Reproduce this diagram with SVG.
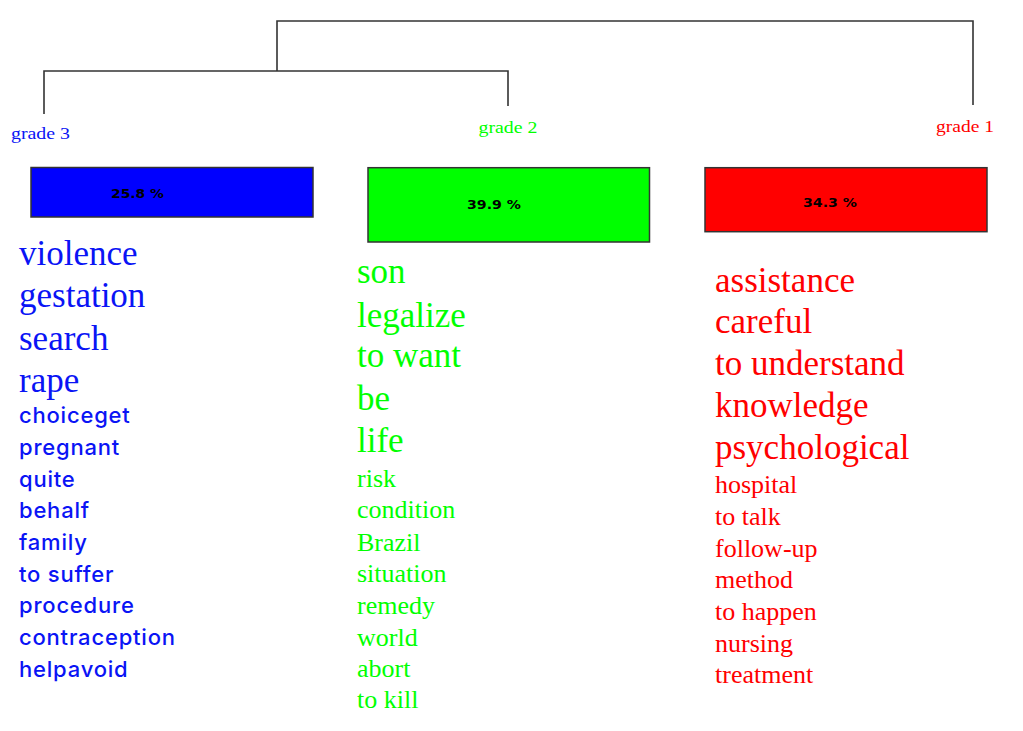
<svg xmlns="http://www.w3.org/2000/svg" width="1023" height="731" viewBox="0 0 1023 731">
<style>
.bg{fill:#ffffff}
.edge{fill:none;stroke:#333333;stroke-width:1.6}
.box{stroke:#333333;stroke-width:1.5}
.pct{font-family:"DejaVu Sans",sans-serif;font-weight:bold;font-size:12.5px;fill:#000000}
.lbl{font-family:"Liberation Serif","Times New Roman",serif;font-size:17.5px}
.big{font-family:"Liberation Serif","Times New Roman",serif;font-size:35px}
.sm{font-family:"Liberation Serif","Times New Roman",serif;font-size:26px}
.sans{font-family:Inter,"Liberation Sans",sans-serif;font-size:22px;font-weight:500;letter-spacing:0.8px}
.b{fill:#0a14f5}
.g{fill:#00ff00}
.r{fill:#ff0000}
</style>
<rect class="bg" x="0" y="0" width="1023" height="731"/>
<g id="connectors">
<path class="edge" d="M277,71 V21 H973 V105"/>
<path class="edge" d="M44,114 V71 H508 V106"/>
</g>
<g id="grade3">
<text class="lbl b" x="11" y="139" textLength="59" lengthAdjust="spacingAndGlyphs">grade 3</text>
<rect class="box" x="31" y="167.5" width="282" height="49.5" fill="#0000ff"/>
<text class="pct" x="111" y="197.5" textLength="53" lengthAdjust="spacingAndGlyphs">25.8 %</text>
<text class="big b" x="19" y="265">violence</text>
<text class="big b" x="19" y="307.3">gestation</text>
<text class="big b" x="19" y="349.5">search</text>
<text class="big b" x="19" y="391.7">rape</text>
<text class="sans b" x="19" y="423.3">choiceget</text>
<text class="sans b" x="19" y="455">pregnant</text>
<text class="sans b" x="19" y="486.7">quite</text>
<text class="sans b" x="19" y="518.3">behalf</text>
<text class="sans b" x="19" y="550">family</text>
<text class="sans b" x="19" y="581.7">to suffer</text>
<text class="sans b" x="19" y="613.3">procedure</text>
<text class="sans b" x="19" y="645">contraception</text>
<text class="sans b" x="19" y="676.7">helpavoid</text>
</g>
<g id="grade2">
<text class="lbl g" x="478.5" y="132.5" textLength="59" lengthAdjust="spacingAndGlyphs">grade 2</text>
<rect class="box" x="368" y="167.7" width="281.5" height="74.3" fill="#00ff00"/>
<text class="pct" x="467" y="209" textLength="54" lengthAdjust="spacingAndGlyphs">39.9 %</text>
<text class="big g" x="357" y="283.3">son</text>
<text class="big g" x="357" y="326.7">legalize</text>
<text class="big g" x="357" y="367.3">to want</text>
<text class="big g" x="357" y="410">be</text>
<text class="big g" x="357" y="451.7">life</text>
<text class="sm g" x="357" y="486.7">risk</text>
<text class="sm g" x="357" y="518.3">condition</text>
<text class="sm g" x="357" y="550.5">Brazil</text>
<text class="sm g" x="357" y="582.3">situation</text>
<text class="sm g" x="357" y="613.5">remedy</text>
<text class="sm g" x="357" y="645.5">world</text>
<text class="sm g" x="357" y="676.8">abort</text>
<text class="sm g" x="357" y="708.3">to kill</text>
</g>
<g id="grade1">
<text class="lbl r" x="936" y="132" textLength="58" lengthAdjust="spacingAndGlyphs">grade 1</text>
<rect class="box" x="705" y="167.7" width="282" height="64" fill="#ff0000"/>
<text class="pct" x="803" y="207" textLength="54" lengthAdjust="spacingAndGlyphs">34.3 %</text>
<text class="big r" x="715" y="291.7">assistance</text>
<text class="big r" x="715" y="333.3">careful</text>
<text class="big r" x="715" y="375">to understand</text>
<text class="big r" x="715" y="416.7">knowledge</text>
<text class="big r" x="715" y="459.3">psychological</text>
<text class="sm r" x="715" y="493.3">hospital</text>
<text class="sm r" x="715" y="525">to talk</text>
<text class="sm r" x="715" y="556.7">follow-up</text>
<text class="sm r" x="715" y="588.3">method</text>
<text class="sm r" x="715" y="620">to happen</text>
<text class="sm r" x="715" y="651.5">nursing</text>
<text class="sm r" x="715" y="683.3">treatment</text>
</g>
</svg>
